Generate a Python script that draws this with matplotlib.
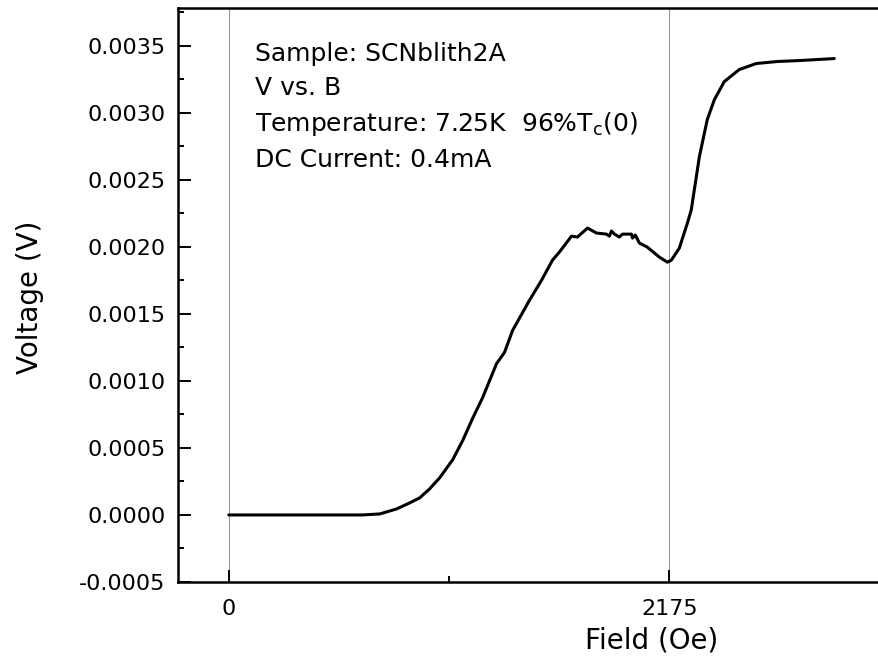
import matplotlib
matplotlib.use("Agg")
import matplotlib.pyplot as plt
from matplotlib.ticker import MultipleLocator, FixedLocator, FuncFormatter

plt.rcParams['font.family'] = ['DejaVu Sans']
plt.rcParams['mathtext.fontset'] = 'dejavusans'

# Field (Oe) and Voltage (V)
field = [0, 661, 745, 829, 893, 942, 991, 1041, 1105, 1154, 1203, 1253,
         1322, 1361, 1401, 1484, 1544, 1598, 1632, 1692, 1721, 1771, 1815,
         1864, 1879, 1889, 1904, 1928, 1943, 1988, 1993, 2007, 2027, 2066,
         2126, 2165, 2185, 2224, 2264, 2283, 2323, 2362, 2397, 2446, 2520,
         2604, 2708, 2816, 2989]
voltage = [0.0, 0.0, 0.0000075, 0.000045, 0.00009, 0.000127, 0.000194,
           0.000277, 0.000411, 0.000553, 0.000718, 0.000875, 0.001129,
           0.001212, 0.001376, 0.0016, 0.00175, 0.0019, 0.00196, 0.002079,
           0.002072, 0.002139, 0.002102, 0.002094, 0.002079, 0.002117,
           0.002094, 0.002072, 0.002094, 0.002094, 0.002064, 0.002087,
           0.002027, 0.001997, 0.001922, 0.001885, 0.0019, 0.001989,
           0.002176, 0.002274, 0.00267, 0.002947, 0.003096, 0.003231,
           0.003321, 0.003366, 0.003381, 0.003388, 0.003403]

x_major = [0, 2175]
x_minor = [1087.5, 3262.5]
ref_lines = [0, 2175]

fig = plt.figure(figsize=(8.79, 6.70), dpi=100)
ax_w = (879 - 178) / 879 * 1.02
ax = fig.add_axes([178/879, 88/670, ax_w, (582-8)/670])

for xv in ref_lines:
    ax.axvline(xv, color='#9a9a9a', lw=0.8, zorder=1)

ax.plot(field, voltage, color='black', lw=2.2, zorder=3,
        solid_joinstyle='round', solid_capstyle='round')

ax.set_xlim(-251, -251 + (3210 + 251) * 1.02)
ax.set_ylim(-0.0005, 0.00378)

ax.spines['right'].set_visible(False)
for s in ['left', 'bottom', 'top']:
    ax.spines[s].set_linewidth(1.8)

ax.xaxis.set_major_locator(FixedLocator(x_major))
ax.xaxis.set_minor_locator(FixedLocator(x_minor))
ax.yaxis.set_major_locator(MultipleLocator(0.0005))
ax.yaxis.set_minor_locator(MultipleLocator(0.00025))
ax.yaxis.set_major_formatter(FuncFormatter(lambda v, p: f"{v:.4f}"))

ax.tick_params(which='major', direction='in', length=9, width=1.4,
               labelsize=16, pad=9)
ax.tick_params(which='minor', direction='in', length=4.5, width=1.4)
ax.tick_params(axis='x', which='major', pad=12)
ax.tick_params(top=False, right=False, which='both')

ax.set_xlabel('Field (Oe)', fontsize=20)
ax.set_ylabel('Voltage (V)', fontsize=20)
ax.xaxis.set_label_coords((652 - 178) / (879 * ax_w), (582 - 626) / 574)
ax.yaxis.set_label_coords((44 - 178) / (879 * ax_w), (582 - 297) / 574)

lines = ['Sample: SCNblith2A', 'V vs. B',
         r'Temperature: 7.25K  96%T$_\mathregular{c}$(0)',
         'DC Current: 0.4mA']
ys = [54, 88, 124, 160]
for t, yp in zip(lines, ys):
    fig.text(255/879, 1 - yp/670, t, fontsize=18, va='center', ha='left')

fig.savefig('out.png', dpi=100)
